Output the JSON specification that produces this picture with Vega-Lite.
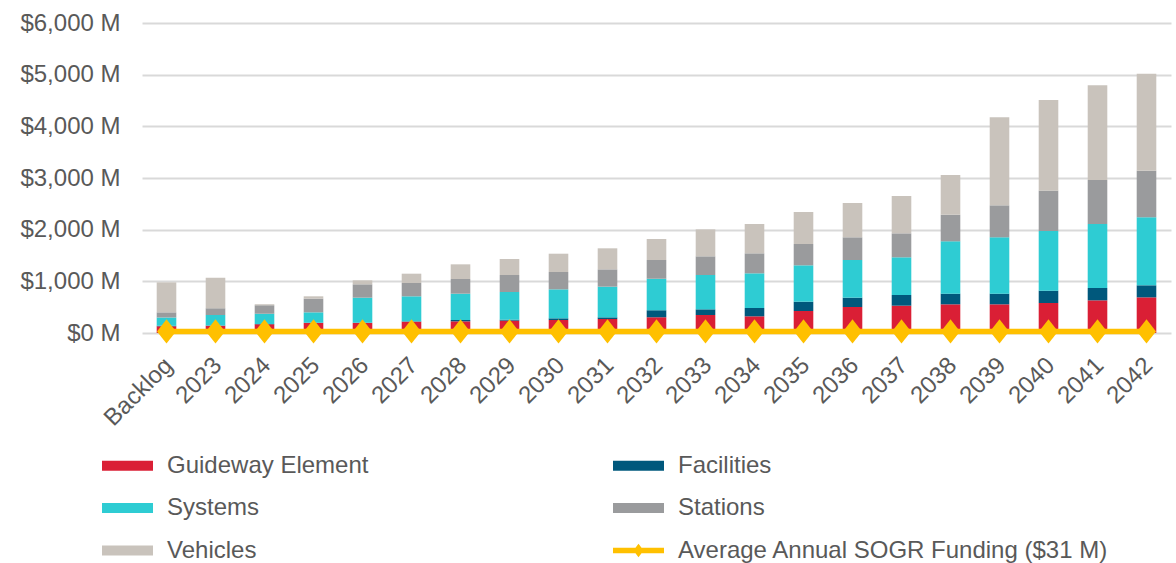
{
  "$schema": "https://vega.github.io/schema/vega-lite/v6.json",
  "width": 1029,
  "height": 310,
  "autosize": "none",
  "padding": {"left": 142, "top": 23, "right": 5, "bottom": 230},
  "background": "white",
  "config": {
    "view": {"stroke": null},
    "font": "Liberation Sans",
    "axis": {"labelFont": "Liberation Sans", "labelColor": "#595959", "labelFontSize": 24}
  },
  "datasets": {
    "bars": [
      {"year": "Backlog", "series": "Guideway Element", "value": 130},
      {"year": "Backlog", "series": "Facilities", "value": 10},
      {"year": "Backlog", "series": "Systems", "value": 160},
      {"year": "Backlog", "series": "Stations", "value": 100},
      {"year": "Backlog", "series": "Vehicles", "value": 580},
      {"year": "2023", "series": "Guideway Element", "value": 140},
      {"year": "2023", "series": "Facilities", "value": 5},
      {"year": "2023", "series": "Systems", "value": 205},
      {"year": "2023", "series": "Stations", "value": 130},
      {"year": "2023", "series": "Vehicles", "value": 590},
      {"year": "2024", "series": "Guideway Element", "value": 170},
      {"year": "2024", "series": "Facilities", "value": 5},
      {"year": "2024", "series": "Systems", "value": 200},
      {"year": "2024", "series": "Stations", "value": 160},
      {"year": "2024", "series": "Vehicles", "value": 20},
      {"year": "2025", "series": "Guideway Element", "value": 195},
      {"year": "2025", "series": "Facilities", "value": 5},
      {"year": "2025", "series": "Systems", "value": 200},
      {"year": "2025", "series": "Stations", "value": 265},
      {"year": "2025", "series": "Vehicles", "value": 45},
      {"year": "2026", "series": "Guideway Element", "value": 195},
      {"year": "2026", "series": "Facilities", "value": 5},
      {"year": "2026", "series": "Systems", "value": 484},
      {"year": "2026", "series": "Stations", "value": 258},
      {"year": "2026", "series": "Vehicles", "value": 77},
      {"year": "2027", "series": "Guideway Element", "value": 220},
      {"year": "2027", "series": "Facilities", "value": 6},
      {"year": "2027", "series": "Systems", "value": 484},
      {"year": "2027", "series": "Stations", "value": 258},
      {"year": "2027", "series": "Vehicles", "value": 180},
      {"year": "2028", "series": "Guideway Element", "value": 226},
      {"year": "2028", "series": "Facilities", "value": 26},
      {"year": "2028", "series": "Systems", "value": 509},
      {"year": "2028", "series": "Stations", "value": 284},
      {"year": "2028", "series": "Vehicles", "value": 284},
      {"year": "2029", "series": "Guideway Element", "value": 239},
      {"year": "2029", "series": "Facilities", "value": 19},
      {"year": "2029", "series": "Systems", "value": 536},
      {"year": "2029", "series": "Stations", "value": 329},
      {"year": "2029", "series": "Vehicles", "value": 309},
      {"year": "2030", "series": "Guideway Element", "value": 252},
      {"year": "2030", "series": "Facilities", "value": 32},
      {"year": "2030", "series": "Systems", "value": 561},
      {"year": "2030", "series": "Stations", "value": 336},
      {"year": "2030", "series": "Vehicles", "value": 354},
      {"year": "2031", "series": "Guideway Element", "value": 271},
      {"year": "2031", "series": "Facilities", "value": 32},
      {"year": "2031", "series": "Systems", "value": 594},
      {"year": "2031", "series": "Stations", "value": 335},
      {"year": "2031", "series": "Vehicles", "value": 407},
      {"year": "2032", "series": "Guideway Element", "value": 303},
      {"year": "2032", "series": "Facilities", "value": 136},
      {"year": "2032", "series": "Systems", "value": 613},
      {"year": "2032", "series": "Stations", "value": 361},
      {"year": "2032", "series": "Vehicles", "value": 406},
      {"year": "2033", "series": "Guideway Element", "value": 348},
      {"year": "2033", "series": "Facilities", "value": 110},
      {"year": "2033", "series": "Systems", "value": 665},
      {"year": "2033", "series": "Stations", "value": 361},
      {"year": "2033", "series": "Vehicles", "value": 522},
      {"year": "2034", "series": "Guideway Element", "value": 323},
      {"year": "2034", "series": "Facilities", "value": 161},
      {"year": "2034", "series": "Systems", "value": 671},
      {"year": "2034", "series": "Stations", "value": 387},
      {"year": "2034", "series": "Vehicles", "value": 568},
      {"year": "2035", "series": "Guideway Element", "value": 426},
      {"year": "2035", "series": "Facilities", "value": 180},
      {"year": "2035", "series": "Systems", "value": 704},
      {"year": "2035", "series": "Stations", "value": 413},
      {"year": "2035", "series": "Vehicles", "value": 619},
      {"year": "2036", "series": "Guideway Element", "value": 503},
      {"year": "2036", "series": "Facilities", "value": 181},
      {"year": "2036", "series": "Systems", "value": 729},
      {"year": "2036", "series": "Stations", "value": 439},
      {"year": "2036", "series": "Vehicles", "value": 664},
      {"year": "2037", "series": "Guideway Element", "value": 529},
      {"year": "2037", "series": "Facilities", "value": 206},
      {"year": "2037", "series": "Systems", "value": 730},
      {"year": "2037", "series": "Stations", "value": 464},
      {"year": "2037", "series": "Vehicles", "value": 723},
      {"year": "2038", "series": "Guideway Element", "value": 555},
      {"year": "2038", "series": "Facilities", "value": 206},
      {"year": "2038", "series": "Systems", "value": 1013},
      {"year": "2038", "series": "Stations", "value": 516},
      {"year": "2038", "series": "Vehicles", "value": 768},
      {"year": "2039", "series": "Guideway Element", "value": 555},
      {"year": "2039", "series": "Facilities", "value": 206},
      {"year": "2039", "series": "Systems", "value": 1091},
      {"year": "2039", "series": "Stations", "value": 619},
      {"year": "2039", "series": "Vehicles", "value": 1703},
      {"year": "2040", "series": "Guideway Element", "value": 581},
      {"year": "2040", "series": "Facilities", "value": 238},
      {"year": "2040", "series": "Systems", "value": 1155},
      {"year": "2040", "series": "Stations", "value": 781},
      {"year": "2040", "series": "Vehicles", "value": 1755},
      {"year": "2041", "series": "Guideway Element", "value": 632},
      {"year": "2041", "series": "Facilities", "value": 239},
      {"year": "2041", "series": "Systems", "value": 1239},
      {"year": "2041", "series": "Stations", "value": 851},
      {"year": "2041", "series": "Vehicles", "value": 1833},
      {"year": "2042", "series": "Guideway Element", "value": 690},
      {"year": "2042", "series": "Facilities", "value": 233},
      {"year": "2042", "series": "Systems", "value": 1316},
      {"year": "2042", "series": "Stations", "value": 903},
      {"year": "2042", "series": "Vehicles", "value": 1878}
    ],
    "funding": [
      {"year": "Backlog", "series": "Average Annual SOGR Funding ($31 M)", "value": 31},
      {"year": "2023", "series": "Average Annual SOGR Funding ($31 M)", "value": 31},
      {"year": "2024", "series": "Average Annual SOGR Funding ($31 M)", "value": 31},
      {"year": "2025", "series": "Average Annual SOGR Funding ($31 M)", "value": 31},
      {"year": "2026", "series": "Average Annual SOGR Funding ($31 M)", "value": 31},
      {"year": "2027", "series": "Average Annual SOGR Funding ($31 M)", "value": 31},
      {"year": "2028", "series": "Average Annual SOGR Funding ($31 M)", "value": 31},
      {"year": "2029", "series": "Average Annual SOGR Funding ($31 M)", "value": 31},
      {"year": "2030", "series": "Average Annual SOGR Funding ($31 M)", "value": 31},
      {"year": "2031", "series": "Average Annual SOGR Funding ($31 M)", "value": 31},
      {"year": "2032", "series": "Average Annual SOGR Funding ($31 M)", "value": 31},
      {"year": "2033", "series": "Average Annual SOGR Funding ($31 M)", "value": 31},
      {"year": "2034", "series": "Average Annual SOGR Funding ($31 M)", "value": 31},
      {"year": "2035", "series": "Average Annual SOGR Funding ($31 M)", "value": 31},
      {"year": "2036", "series": "Average Annual SOGR Funding ($31 M)", "value": 31},
      {"year": "2037", "series": "Average Annual SOGR Funding ($31 M)", "value": 31},
      {"year": "2038", "series": "Average Annual SOGR Funding ($31 M)", "value": 31},
      {"year": "2039", "series": "Average Annual SOGR Funding ($31 M)", "value": 31},
      {"year": "2040", "series": "Average Annual SOGR Funding ($31 M)", "value": 31},
      {"year": "2041", "series": "Average Annual SOGR Funding ($31 M)", "value": 31},
      {"year": "2042", "series": "Average Annual SOGR Funding ($31 M)", "value": 31}
    ]
  },
  "encoding": {
    "x": {
      "field": "year",
      "type": "nominal",
      "sort": null,
      "scale": {"paddingInner": 0.6, "paddingOuter": 0.3},
      "axis": {
        "title": null,
        "domain": false,
        "ticks": false,
        "labelAngle": -45,
        "labelPadding": 20,
        "labelOffset": -6,
        "labelFontSize": 24
      }
    }
  },
  "layer": [
    {
      "data": {"name": "bars"},
      "transform": [
        {"calculate": "indexof(['Guideway Element', 'Facilities', 'Systems', 'Stations', 'Vehicles'], datum.series)", "as": "stackRank"}
      ],
      "mark": {"type": "bar"},
      "encoding": {
        "y": {
          "field": "value",
          "type": "quantitative",
          "stack": "zero",
          "scale": {"domain": [0, 6000], "nice": false},
          "axis": {
            "title": null,
            "values": [0, 1000, 2000, 3000, 4000, 5000, 6000],
            "labelExpr": "'$' + format(datum.value, ',') + ' M'",
            "domain": false,
            "ticks": false,
            "labelPadding": 22,
            "gridColor": "#D9D9D9",
            "gridWidth": 2
          }
        },
        "order": {"field": "stackRank", "type": "quantitative", "sort": "ascending"},
        "color": {
          "field": "series",
          "type": "nominal",
          "sort": ["Guideway Element", "Facilities", "Systems", "Stations", "Vehicles", "Average Annual SOGR Funding ($31 M)"],
          "scale": {
            "domain": ["Guideway Element", "Facilities", "Systems", "Stations", "Vehicles", "Average Annual SOGR Funding ($31 M)"],
            "range": ["#DA1F35", "#00587C", "#2ECCD3", "#9A9B9D", "#C9C3BC", "#FFC000"]
          },
          "legend": {
            "title": null,
            "orient": "none",
            "legendX": -40,
            "legendY": 417,
            "direction": "horizontal",
            "columns": 2,
            "columnPadding": 244,
            "rowPadding": 4.5,
            "labelFont": "Liberation Sans",
            "labelFontSize": 24,
            "labelColor": "#595959",
            "labelOffset": 14,
            "labelLimit": 600,
            "symbolSize": 2601,
            "symbolStrokeWidth": 0,
            "encode": {
              "symbols": {
                "update": {
                  "shape": {"signal": "datum.value === 'Average Annual SOGR Funding ($31 M)' ? 'M-1,-0.11H1V0.11H-1Z M0,-0.26L0.2,0L0,0.26L-0.2,0Z' : 'M-1,-0.2H1V0.2H-1Z'"},
                  "fill": {"scale": "color", "field": "value"},
                  "stroke": {"value": "transparent"},
                  "strokeWidth": {"value": 0},
                  "opacity": {"value": 1}
                }
              }
            }
          }
        }
      }
    },
    {
      "data": {"name": "funding"},
      "mark": {
        "type": "line",
        "strokeWidth": 5.5,
        "point": {"shape": "M0,-1.15L0.9,0L0,1.15L-0.9,0Z", "size": 450, "filled": true}
      },
      "encoding": {
        "y": {"field": "value", "type": "quantitative"},
        "color": {"field": "series", "type": "nominal"}
      }
    }
  ]
}
